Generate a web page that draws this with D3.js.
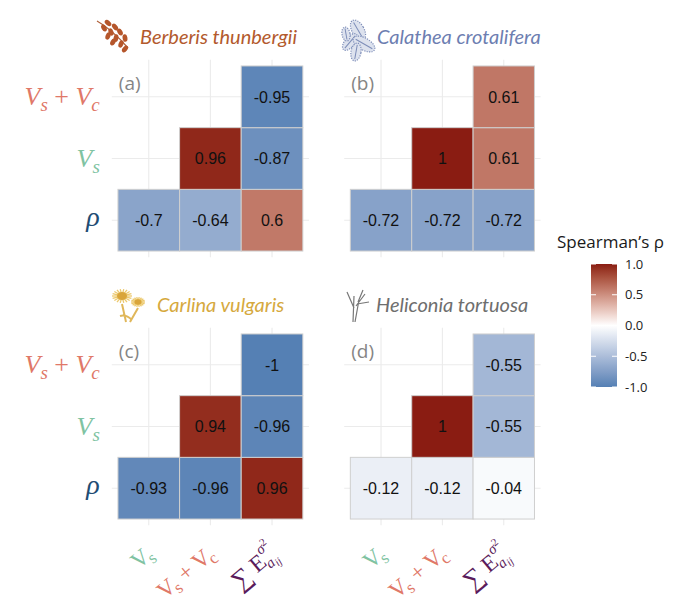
<!DOCTYPE html>
<html><head><meta charset="utf-8">
<script src="https://cdn.jsdelivr.net/npm/d3@7"></script>
<style>body{margin:0;background:#fff}svg{display:block}</style>
</head><body>
<svg id="chart" width="680" height="611"></svg>
<script>
// ---- data ----
const rowCats = ["rho", "Vs", "VsVc"];          // bottom -> top
const colCats = ["Vs", "VsVc", "Sum"];          // left -> right
const cellRows = ["rho", "rho", "rho", "Vs", "Vs", "VsVc"];
const cellCols = ["Vs", "VsVc", "Sum", "VsVc", "Sum", "Sum"];
const species = ["Berberis thunbergii", "Calathea crotalifera", "Carlina vulgaris", "Heliconia tortuosa"];
const panelTags = ["(a)", "(b)", "(c)", "(d)"];
const valuesA = [-0.7, -0.64, 0.6, 0.96, -0.87, -0.95];
const valuesB = [-0.72, -0.72, -0.72, 1, 0.61, 0.61];
const valuesC = [-0.93, -0.96, 0.96, 0.94, -0.96, -1];
const valuesD = [-0.12, -0.12, -0.04, 1, -0.55, -0.55];
const legendTicks = [1.0, 0.5, 0.0, -0.5, -1.0];

const panelValues = [valuesA, valuesB, valuesC, valuesD];
const titleColors = ["#b35a2d", "#6d7eb1", "#d6a93e", "#6e6e6e"];
const labelColors = {Vs: "#7fc3a2", VsVc: "#e07868", rho: "#1f4d74", Sum: "#5b1b5b"};
const lowCol = "#5580b4", highCol = "#8a1c12";
const fill = v => v < 0 ? d3.interpolateLab("#ffffff", lowCol)(-v) : d3.interpolateLab("#ffffff", highCol)(v);

const svg = d3.select("#chart");

const panels = [
  {xr: [111.8, 309.0], yr: [257.2, 59.8]},
  {xr: [344.2, 540.6], yr: [257.2, 59.8]},
  {xr: [111.8, 309.0], yr: [525.2, 327.8]},
  {xr: [344.2, 540.6], yr: [525.2, 327.8]}
];

panels.forEach((p, pi) => {
  const x = d3.scaleLinear().domain([0.4, 3.6]).range(p.xr);
  const y = d3.scaleLinear().domain([0.4, 3.6]).range(p.yr);
  const g = svg.append("g");
  // grid
  [1, 2, 3].forEach(i => {
    g.append("line").attr("x1", x(i)).attr("x2", x(i)).attr("y1", y(0.4)).attr("y2", y(3.6))
      .attr("stroke", "#ebebeb").attr("stroke-width", 1.1);
    g.append("line").attr("y1", y(i)).attr("y2", y(i)).attr("x1", x(0.4)).attr("x2", x(3.6))
      .attr("stroke", "#ebebeb").attr("stroke-width", 1.1);
  });
  const vals = panelValues[pi];
  const cells = vals.map((v, k) => ({v, c: colCats.indexOf(cellCols[k]) + 1, r: rowCats.indexOf(cellRows[k]) + 1}));
  g.selectAll("rect.tile").data(cells).join("rect").attr("class", "tile")
    .attr("x", d => x(d.c - 0.5)).attr("y", d => y(d.r + 0.5))
    .attr("width", d => x(d.c + 0.5) - x(d.c - 0.5)).attr("height", d => y(d.r - 0.5) - y(d.r + 0.5))
    .attr("fill", d => fill(d.v)).attr("stroke", "#cfcfcf").attr("stroke-width", 1);
  g.selectAll("text.val").data(cells).join("text").attr("class", "val")
    .attr("x", d => x(d.c)).attr("y", d => y(d.r)).attr("dy", "0.36em")
    .attr("text-anchor", "middle").attr("font-family", "Liberation Sans, Arial, sans-serif")
    .attr("font-size", 16).attr("fill", "#111").text(d => String(d.v));
  // tag
  g.append("text").attr("x", x(0.4) + 7).attr("y", y(3.6) + 30).attr("font-family", "Open Sans, sans-serif")
    .attr("font-size", 19).attr("fill", "#858585").text(panelTags[pi]);

  // y labels (left panels)
  if (pi % 2 === 0) {
    const lx = x(0.4) - 12;
    const mathFont = "Liberation Serif, serif";
    const t1 = g.append("text").attr("x", lx).attr("y", y(3) + 8).attr("text-anchor", "end")
      .attr("font-family", mathFont).attr("font-size", 26).attr("fill", labelColors.VsVc);
    t1.append("tspan").attr("font-style", "italic").text("V");
    t1.append("tspan").attr("font-style", "italic").attr("font-size", 19).attr("dy", 6).text("s");
    t1.append("tspan").attr("dy", -6).text(" + ");
    t1.append("tspan").attr("font-style", "italic").text("V");
    t1.append("tspan").attr("font-style", "italic").attr("font-size", 19).attr("dy", 6).text("c");
    const t2 = g.append("text").attr("x", lx).attr("y", y(2) + 8).attr("text-anchor", "end")
      .attr("font-family", mathFont).attr("font-size", 26).attr("fill", labelColors.Vs);
    t2.append("tspan").attr("font-style", "italic").text("V");
    t2.append("tspan").attr("font-style", "italic").attr("font-size", 19).attr("dy", 6).text("s");
    g.append("text").attr("x", lx).attr("y", y(1) + 6).attr("text-anchor", "end")
      .attr("font-family", mathFont).attr("font-style", "italic").attr("font-size", 28)
      .attr("fill", labelColors.rho).text("ρ");
  }
  // x labels (bottom panels)
  if (pi >= 2) {
    const mathFont = "Liberation Serif, serif";
    const by = y(0.4) + 31;
    const mk = (i) => g.append("text").attr("text-anchor", "end")
      .attr("transform", `translate(${x(i) + 6},${by}) rotate(-40)`)
      .attr("font-family", mathFont).attr("font-size", 23);
    const a = mk(1).attr("fill", labelColors.Vs);
    a.append("tspan").text("V");
    a.append("tspan").attr("font-size", 17).attr("dx", -2).attr("dy", 5).text("s");
    const b = mk(2).attr("fill", labelColors.VsVc);
    b.append("tspan").text("V");
    b.append("tspan").attr("font-size", 17).attr("dx", -2).attr("dy", 5).text("s");
    b.append("tspan").attr("dy", -5).text(" + V");
    b.append("tspan").attr("font-size", 17).attr("dx", -2).attr("dy", 5).text("c");
    const c = mk(3).attr("fill", labelColors.Sum);
    c.append("tspan").attr("font-size", 26).attr("dy", 2).text("∑");
    c.append("tspan").attr("dy", -2).text(" E");
    c.append("tspan").attr("font-size", 15).attr("dy", -12).attr("font-style", "italic").text("σ");
    c.append("tspan").attr("font-size", 11).attr("dy", -5).text("2");
    c.append("tspan").attr("font-size", 15).attr("dx", -14).attr("dy", 22).attr("font-style", "italic").text("a");
    c.append("tspan").attr("font-size", 11).attr("dy", 3).attr("font-style", "italic").text("ij");
  }
});

// ---- titles ----
const titlePos = [[140, 44], [377, 44], [157, 312], [376, 312]];
species.forEach((s, i) => {
  svg.append("text").attr("x", titlePos[i][0]).attr("y", titlePos[i][1])
    .attr("font-family", "Lato, Open Sans, sans-serif").attr("font-style", "italic")
    .attr("font-size", 20).attr("fill", titleColors[i]).text(s);
});

// ---- icons (decorative) ----
// Berberis: stem with berries
(function () {
  const g = svg.append("g").attr("transform", "translate(96,18)");
  g.append("path").attr("d", "M1,3 C10,8 20,16 32,30").attr("stroke", "#b0603a").attr("fill", "none").attr("stroke-width", 1.2);
  const berries = [[8,10,-30],[12,5,-50],[15,14,-20],[19,9,-40],[20,20,10],[24,14,-30],[25,26,20],[29,20,-10],[17,24,30],[29,31,40],[12,18,20]];
  berries.forEach(b => g.append("ellipse").attr("cx", b[0]).attr("cy", b[1]).attr("rx", 2.4).attr("ry", 3.8)
    .attr("transform", `rotate(${b[2]},${b[0]},${b[1]})`).attr("fill", "#b5562b"));
})();
// Calathea: lacy leaves
(function () {
  const g = svg.append("g").attr("transform", "translate(340,20)");
  const leaves = [[18,10,-30,6,11],[10,22,40,5,10],[24,24,-60,6,12],[16,32,10,5,9],[6,14,-10,4,7]];
  leaves.forEach(l => {
    g.append("ellipse").attr("cx", l[0]).attr("cy", l[1]).attr("rx", l[3]).attr("ry", l[4])
      .attr("transform", `rotate(${l[2]},${l[0]},${l[1]})`).attr("fill", "#dde2ee").attr("stroke", "#7d8db8").attr("stroke-width", 1.2)
      .attr("stroke-dasharray", "1.2,1.2");
    g.append("line").attr("x1", l[0]).attr("y1", l[1] - l[4] * 0.8).attr("x2", l[0]).attr("y2", l[1] + l[4] * 0.8)
      .attr("transform", `rotate(${l[2]},${l[0]},${l[1]})`).attr("stroke", "#7d8db8").attr("stroke-width", 1);
  });
})();
// Carlina: golden flowers
(function () {
  const g = svg.append("g").attr("transform", "translate(110,286)");
  [[12,10,10],[28,16,7]].forEach(f => {
    for (let k = 0; k < 18; k++) {
      const a = k / 18 * Math.PI * 2;
      g.append("line").attr("x1", f[0]).attr("y1", f[1]).attr("x2", f[0] + Math.cos(a) * f[2]).attr("y2", f[1] + Math.sin(a) * f[2] * 0.7)
        .attr("stroke", "#ecc96e").attr("stroke-width", 1.3);
    }
    g.append("ellipse").attr("cx", f[0]).attr("cy", f[1]).attr("rx", f[2] * 0.5).attr("ry", f[2] * 0.4).attr("fill", "#d9a53a");
  });
  g.append("path").attr("d", "M12,18 L16,36 M28,22 L20,36 M10,30 Q16,28 22,34").attr("stroke", "#e0b75a").attr("fill", "none").attr("stroke-width", 2);
})();
// Heliconia: grey stems
(function () {
  const g = svg.append("g").attr("transform", "translate(345,288)");
  g.append("path").attr("d", "M8,34 L9,8 M10,34 L14,12 M9,20 L2,4 M11,18 L20,6 M12,16 L24,14 M13,14 L18,2")
    .attr("stroke", "#777").attr("fill", "none").attr("stroke-width", 1.2);
})();

// ---- legend ----
const lg = svg.append("g");
const ly = d3.scaleLinear().domain([-1, 1]).range([387, 264]);
const defs = svg.append("defs");
const grad = defs.append("linearGradient").attr("id", "lgrad").attr("x1", 0).attr("x2", 0).attr("y1", 1).attr("y2", 0);
d3.range(-1, 1.0001, 0.05).forEach(v => grad.append("stop").attr("offset", (v + 1) / 2).attr("stop-color", fill(v)));
lg.append("text").attr("x", 557).attr("y", 248).attr("font-family", "Open Sans, sans-serif").attr("font-size", 17)
  .attr("fill", "#1a1a1a").text("Spearman’s ρ");
lg.append("rect").attr("x", 591).attr("y", ly(1)).attr("width", 26).attr("height", ly(-1) - ly(1)).attr("fill", "url(#lgrad)");
legendTicks.forEach(t => {
  lg.append("line").attr("x1", 591).attr("x2", 596).attr("y1", ly(t)).attr("y2", ly(t)).attr("stroke", "#fff").attr("stroke-width", 1);
  lg.append("line").attr("x1", 612).attr("x2", 617).attr("y1", ly(t)).attr("y2", ly(t)).attr("stroke", "#fff").attr("stroke-width", 1);
  lg.append("text").attr("x", 625).attr("y", ly(t)).attr("dy", "0.35em").attr("font-family", "Open Sans, sans-serif")
    .attr("font-size", 13).attr("fill", "#222").text(t.toFixed(1));
});
</script>
</body></html>
